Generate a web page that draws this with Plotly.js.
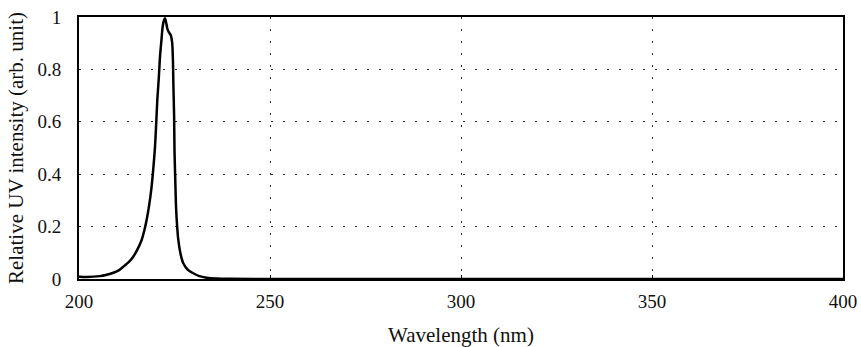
<!DOCTYPE html>
<html>
<head>
<meta charset="utf-8">
<script src="https://cdn.plot.ly/plotly-3.0.1.min.js"></script>
<style>html,body{margin:0;padding:0;background:#fff;}#chart{width:861px;height:347px;}</style>
</head>
<body>
<div id="chart"></div>
<script>
const wavelength = [200, 200.3, 202, 205.5, 207, 209, 210.5, 211.6, 213, 214.2, 215.3, 216.4, 217.1, 217.7, 218.4, 219.0, 219.5, 219.9, 220.2, 220.5, 220.9, 221.2, 221.6, 221.9, 222.2, 222.5, 222.8, 223.1, 223.5, 224.0, 224.4, 224.6, 224.7, 224.9, 225.0, 225.2, 225.4, 225.7, 226.0, 226.6, 227.3, 228.5, 229.9, 231.5, 233.4, 236, 240, 250, 300, 350, 400];
const intensity  = [0.01, 0.009, 0.008, 0.011, 0.015, 0.024, 0.034, 0.047, 0.064, 0.085, 0.113, 0.149, 0.185, 0.225, 0.285, 0.352, 0.43, 0.505, 0.59, 0.683, 0.77, 0.848, 0.915, 0.963, 0.985, 0.995, 0.98, 0.957, 0.942, 0.931, 0.9, 0.83, 0.747, 0.62, 0.49, 0.38, 0.276, 0.2, 0.149, 0.095, 0.06, 0.035, 0.022, 0.011, 0.005, 0.002, 0.001, 0, 0, 0, 0];
const xTicks = [200, 250, 300, 350, 400];
const yTicks = [0, 0.2, 0.4, 0.6, 0.8, 1];
const yTickText = ["0", "0.2", "0.4", "0.6", "0.8", "1"];

const fam = "Liberation Serif, DejaVu Serif, serif";
const tickFont = {family: fam, size: 19, color: "#111"};
const titleFont = {family: fam, size: 21, color: "#111"};

Plotly.newPlot("chart", [{
  x: wavelength, y: intensity, type: "scatter", mode: "lines",
  line: {color: "#000", width: 2.5, shape: "spline", smoothing: 0.6},
  showlegend: false
}], {
  width: 861, height: 347,
  margin: {l: 79, r: 18, t: 17, b: 68},
  paper_bgcolor: "#fff", plot_bgcolor: "#fff",
  font: tickFont,
  xaxis: {
    range: [200, 400], tickvals: xTicks, ticktext: xTicks.map(String),
    showgrid: true, gridcolor: "#333", gridwidth: 1, griddash: "2px,10px",
    showline: true, linecolor: "#000", linewidth: 2, mirror: true,
    ticks: "inside", ticklen: 4, tickcolor: "#000", zeroline: false,
    ticklabelstandoff: 4,
    tickfont: tickFont,
    title: {text: "Wavelength (nm)", font: titleFont, standoff: 18}
  },
  yaxis: {
    range: [0, 1], tickvals: yTicks, ticktext: yTickText,
    showgrid: true, gridcolor: "#333", gridwidth: 1, griddash: "2px,10px",
    showline: true, linecolor: "#000", linewidth: 2, mirror: true,
    ticks: "", zeroline: false, ticklabelstandoff: 12,
    tickfont: tickFont,
    title: {text: "Relative UV intensity (arb. unit)", font: titleFont, standoff: 8}
  }
}, {displayModeBar: false, staticPlot: true});
</script>
</body>
</html>
